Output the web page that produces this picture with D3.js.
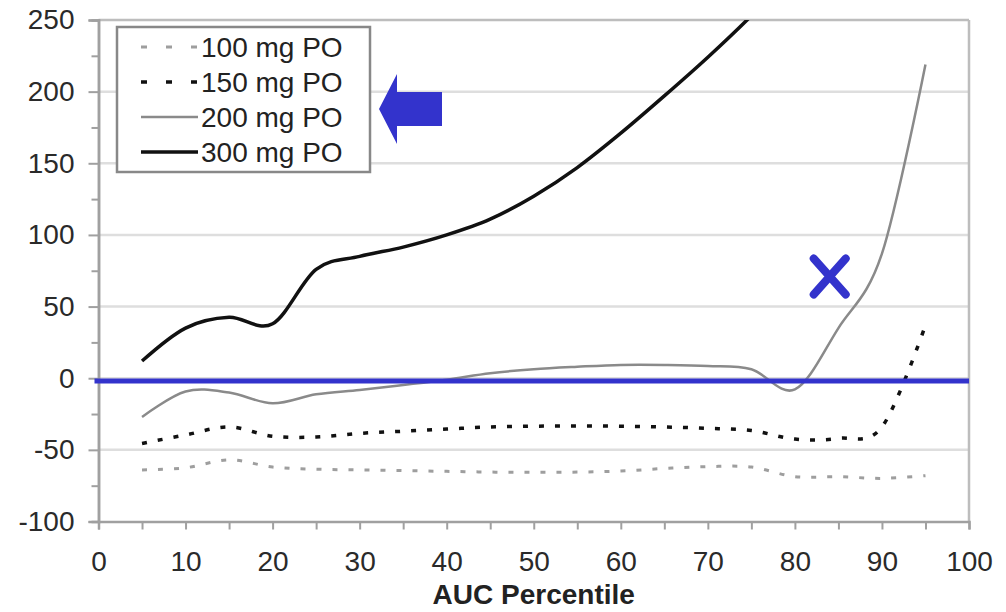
<!DOCTYPE html>
<html>
<head>
<meta charset="utf-8">
<script src="https://cdn.jsdelivr.net/npm/d3@7/dist/d3.min.js"></script>
<style>
  html, body { margin: 0; padding: 0; background: #fff; }
  svg { display: block; font-family: "Liberation Sans", Arial, sans-serif; }
</style>
</head>
<body>
<svg id="chart" width="1006" height="612"></svg>
<script>
// ---- data ----
const percentiles = [5, 10, 15, 20, 25, 30, 35, 40, 45, 50, 55, 60, 65, 70, 75, 80, 85, 90, 95];
const mg100 = [-64, -62.5, -57, -62, -63.5, -64, -64.5, -65, -65.5, -65.7, -65.5, -64.8, -63, -61.7, -62, -68.7, -68.7, -69.9, -68];
const mg150 = [-45.5, -39.6, -34, -40.5, -41, -38.5, -37, -35.5, -34, -33.5, -33.3, -33.5, -34, -35, -36.5, -42.5, -42, -34, 37];
const mg200 = [-27, -9.3, -10, -17.5, -11.2, -8.2, -4.7, -1, 3.5, 6.3, 8, 9.3, 9.3, 8.6, 6.3, -7.8, 35, 87, 219];
const pct300 = [5, 10, 15, 20, 25, 30, 35, 40, 45, 50, 55, 60, 65, 70, 75, 80];
const mg300 = [12, 35, 42.5, 38, 76, 85, 91.5, 100, 111, 127, 147, 171, 197, 224, 253, 285];
const seriesNames = ["100 mg PO", "150 mg PO", "200 mg PO", "300 mg PO"];
const xTicks = [0, 10, 20, 30, 40, 50, 60, 70, 80, 90, 100];
const yTicks = [-100, -50, 0, 50, 100, 150, 200, 250];
const xMinorTicks = [0, 5, 10, 15, 20, 25, 30, 35, 40, 45, 50, 55, 60, 65, 70, 75, 80, 85, 90, 95, 100];
const yMinorTicks = [-75, -25, 25, 75, 125, 175, 225];
const xTitle = "AUC Percentile";
const markerLevel = -2;           // blue horizontal reference line
const crossAt = { x: 84, y: 71 }; // blue X annotation

// ---- layout ----
const svg = d3.select("#chart");
const L = 98.5, R = 969, T = 20, B = 521.5;
const x = d3.scaleLinear().domain([0, 100]).range([L, R]);
const y = d3.scaleLinear().domain([-100, 250]).range([B, T]);

const grid = "#dedede", axisCol = "#a0a0a0", blue = "#3333cc";

// gridlines
svg.append("g").selectAll("line").data(yTicks.filter(v => v > -100 && v < 250)).join("line")
  .attr("x1", L).attr("x2", R).attr("y1", d => y(d)).attr("y2", d => y(d))
  .attr("stroke", grid).attr("stroke-width", 2.5);

// plot border top and right
svg.append("line").attr("x1", L).attr("x2", R).attr("y1", T).attr("y2", T)
  .attr("stroke", "#bdbdbd").attr("stroke-width", 2.5);
svg.append("line").attr("x1", R).attr("x2", R).attr("y1", T).attr("y2", B)
  .attr("stroke", "#bdbdbd").attr("stroke-width", 2.5);

// Y axis
const yAxis = svg.append("g").attr("transform", `translate(${L},0)`)
  .call(d3.axisLeft(y).tickValues(yTicks).tickSize(10).tickPadding(14).tickFormat(d => d < 0 ? "-" + Math.abs(d) : d));
const yMinor = svg.append("g").attr("transform", `translate(${L},0)`)
  .call(d3.axisLeft(y).tickValues(yMinorTicks).tickSize(7).tickFormat(""));
// X axis
const xAxis = svg.append("g").attr("transform", `translate(0,${B})`)
  .call(d3.axisBottom(x).tickValues(xMinorTicks).tickSize(8).tickPadding(22)
        .tickFormat(d => xTicks.includes(d) ? d : ""));

[yAxis, yMinor, xAxis].forEach(g => {
  g.select(".domain").attr("stroke", axisCol).attr("stroke-width", 2.5);
  g.selectAll(".tick line").attr("stroke", axisCol).attr("stroke-width", 2);
  g.selectAll(".tick text").attr("fill", "#2a2a2a").attr("font-size", 28)
    .attr("font-family", "'Liberation Sans', Arial, sans-serif");
});
xAxis.selectAll(".tick text").attr("dy", "0.71em");

// axis title
svg.append("text").attr("x", (L + R) / 2).attr("y", 604).attr("text-anchor", "middle")
  .attr("font-size", 28).attr("font-weight", "bold").attr("fill", "#222").text(xTitle);

// clip
svg.append("clipPath").attr("id", "plotclip").append("rect")
  .attr("x", L).attr("y", T).attr("width", R - L).attr("height", B - T);

const line = d3.line().x(d => x(d[0])).y(d => y(d[1])).curve(d3.curveCardinal.tension(0));
const zip = (xs, ys) => xs.map((v, i) => [v, ys[i]]);

const styles = [
  { color: "#9e9e9e", width: 3, dash: "5,11", legendDash: "6,19" },
  { color: "#111", width: 3.5, dash: "5,11", legendDash: "6,19" },
  { color: "#8a8a8a", width: 2.5, dash: null, legendDash: null },
  { color: "#111", width: 3.5, dash: null, legendDash: null }
];
const seriesData = [zip(percentiles, mg100), zip(percentiles, mg150), zip(percentiles, mg200), zip(pct300, mg300)];

const plot = svg.append("g").attr("clip-path", "url(#plotclip)");

// blue reference line (drawn beneath the series)
svg.append("line").attr("x1", x(0) - 4).attr("x2", x(100)).attr("y1", y(markerLevel)).attr("y2", y(markerLevel))
  .attr("stroke", blue).attr("stroke-width", 5);

seriesData.forEach((d, i) => {
  plot.append("path").datum(d).attr("d", line).attr("fill", "none")
    .attr("stroke", styles[i].color).attr("stroke-width", styles[i].width)
    .attr("stroke-dasharray", styles[i].dash);
});

// blue X annotation
const cx = x(crossAt.x), cy = y(crossAt.y);
svg.append("path").attr("d", `M${cx - 16},${cy - 18}L${cx + 16},${cy + 18}M${cx + 16},${cy - 18}L${cx - 16},${cy + 18}`)
  .attr("stroke", blue).attr("stroke-width", 8).attr("stroke-linecap", "round").attr("fill", "none");

// legend
const lg = svg.append("g");
lg.append("rect").attr("x", 117).attr("y", 27).attr("width", 253).attr("height", 145)
  .attr("fill", "#fff").attr("stroke", "#888").attr("stroke-width", 2.5);
seriesNames.forEach((name, i) => {
  const ly = 47 + i * 35;
  lg.append("line").attr("x1", 141).attr("x2", 198).attr("y1", ly).attr("y2", ly)
    .attr("stroke", styles[i].color).attr("stroke-width", styles[i].width)
    .attr("stroke-dasharray", styles[i].legendDash);
  lg.append("text").attr("x", 201).attr("y", ly).attr("dy", "0.36em")
    .attr("font-size", 28).attr("fill", "#222").text(name);
});

// blue arrow pointing to legend
svg.append("path")
  .attr("d", "M379,109 L397,74 L397,92 L442,92 L442,126 L397,126 L397,144 Z")
  .attr("fill", blue);
</script>
</body>
</html>
